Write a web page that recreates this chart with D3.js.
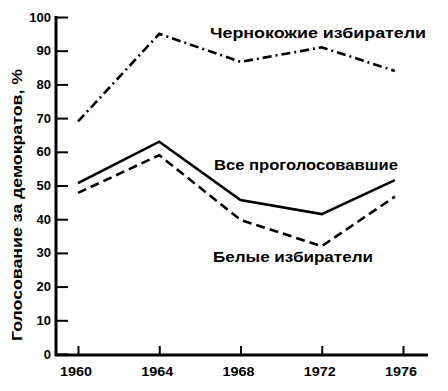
<!DOCTYPE html>
<html><head><meta charset="utf-8">
<script src="https://cdn.jsdelivr.net/npm/d3@7"></script>
<style>body{margin:0;background:#fff}svg{display:block}</style>
</head><body>
<script>
const years = [1960, 1964, 1968, 1972, 1976];
const pointYears = [1960, 1964, 1968, 1972, 1975.6];
const blackVoters = [69, 95, 86.7, 91, 84];
const allVoters = [50.7, 63, 45.7, 41.5, 51.6];
const whiteVoters = [47.8, 59, 39.8, 32, 46.7];
const yTicks = [0, 10, 20, 30, 40, 50, 60, 70, 80, 90, 100];
const seriesNames = ["Чернокожие избиратели", "Все проголосовавшие", "Белые избиратели"];
const yTitle = "Голосование за демократов, %";

const W = 448, H = 391;
const svg = d3.select("body").append("svg").attr("width", W).attr("height", H);
const font = "'Liberation Sans', Arial, sans-serif";

const x = d3.scaleLinear().domain([1960, 1976]).range([78, 403]);
const y = d3.scaleLinear().domain([0, 100]).range([354, 17]);

// axes lines
svg.append("line").attr("x1", 56).attr("x2", 56).attr("y1", y(100)-1).attr("y2", 356)
  .attr("stroke", "#000").attr("stroke-width", 3);
svg.append("line").attr("x1", 55).attr("x2", 428).attr("y1", 355).attr("y2", 355)
  .attr("stroke", "#000").attr("stroke-width", 3);

// y axis
const yAxis = d3.axisRight(y).tickValues(yTicks).tickSize(12).tickFormat("");
const gy = svg.append("g").attr("transform", "translate(56,0)").call(yAxis);
gy.select(".domain").remove();
gy.selectAll(".tick line").attr("stroke-width", 2);
svg.append("g").selectAll("text").data(yTicks).join("text")
  .attr("x", 51).attr("y", d => y(d)).attr("dy", "0.35em")
  .attr("text-anchor", "end").attr("font-family", font).attr("font-weight", "bold")
  .attr("font-size", 13).text(d => d);

// x axis
const xAxis = d3.axisTop(x).tickValues(years).tickSize(9).tickFormat("");
const gx = svg.append("g").attr("transform", "translate(0,355)").call(xAxis);
gx.select(".domain").remove();
gx.selectAll(".tick line").attr("stroke-width", 2);
svg.append("g").selectAll("text").data(years).join("text")
  .attr("x", d => x(d) - 2).attr("y", 371).attr("dy", "0.35em")
  .attr("text-anchor", "middle").attr("font-family", font).attr("font-weight", "bold")
  .attr("font-size", 13).attr("textLength", 32).attr("lengthAdjust", "spacingAndGlyphs")
  .text(d => d);

// lines
const line = d3.line().x((d, i) => x(pointYears[i])).y(d => y(d));
const styles = [
  {data: blackVoters, dash: "9,4,2,4"},
  {data: allVoters, dash: null},
  {data: whiteVoters, dash: "9,5"}
];
styles.forEach(s => {
  svg.append("path").datum(s.data).attr("d", line)
    .attr("fill", "none").attr("stroke", "#000").attr("stroke-width", 2.6)
    .attr("stroke-dasharray", s.dash);
});

// labels
const labels = [
  {t: seriesNames[0], x: 210, y: 33, w: 216},
  {t: seriesNames[1], x: 214, y: 165, w: 184},
  {t: seriesNames[2], x: 213, y: 257, w: 160}
];
svg.append("g").selectAll("text").data(labels).join("text")
  .attr("x", d => d.x).attr("y", d => d.y).attr("dy", "0.35em")
  .attr("font-family", font).attr("font-weight", "bold").attr("font-size", 15)
  .attr("textLength", d => d.w).attr("lengthAdjust", "spacingAndGlyphs")
  .text(d => d.t);

// y title
svg.append("text").attr("transform", "translate(17,205) rotate(-90)")
  .attr("text-anchor", "middle").attr("dy", "0.35em")
  .attr("font-family", font).attr("font-weight", "bold").attr("font-size", 15.5)
  .attr("textLength", 272).attr("lengthAdjust", "spacingAndGlyphs")
  .text(yTitle);
</script>
</body></html>
